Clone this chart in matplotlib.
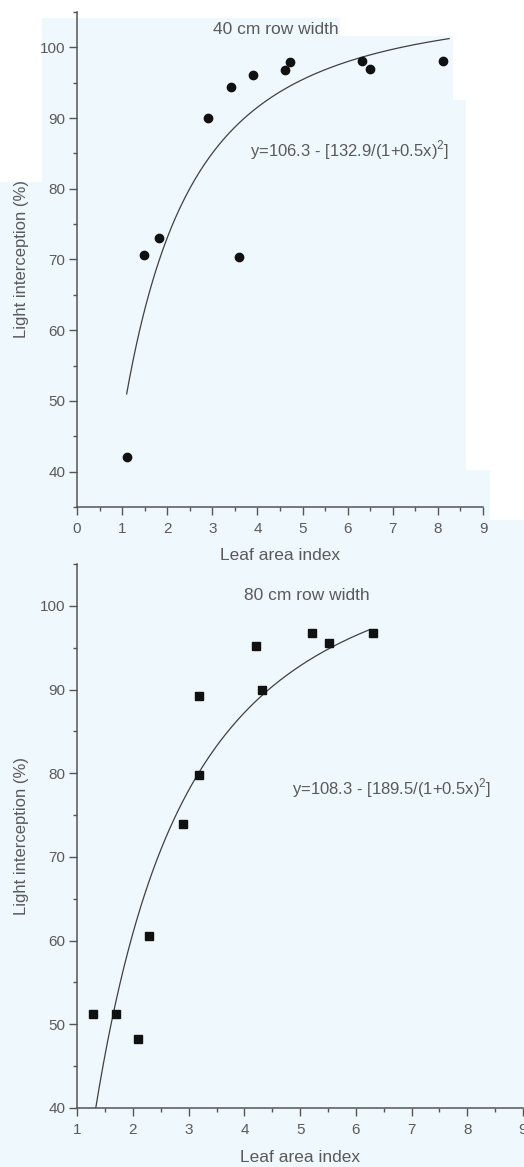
import numpy as np
import matplotlib
matplotlib.use("Agg")
import matplotlib.pyplot as plt
from matplotlib.ticker import MultipleLocator
from matplotlib.patches import Rectangle

# ---- data ----
lai_40 = [1.10, 1.49, 1.81, 2.90, 3.41, 3.60, 3.91, 4.61, 4.72, 6.31, 6.50, 8.11]
li_40 = [42.0, 70.6, 73.0, 90.0, 94.4, 70.3, 96.1, 96.8, 98.0, 98.1, 97.0, 98.1]

lai_80 = [1.29, 1.69, 2.09, 2.29, 2.89, 3.19, 3.19, 4.20, 4.31, 5.21, 5.51, 6.31]
li_80 = [51.2, 51.2, 48.2, 60.6, 73.9, 79.8, 89.2, 95.2, 89.9, 96.8, 95.6, 96.8]

# fitted model parameters shown in the chart
fit_40 = (106.3, 132.9, 0.5)
fit_80 = (108.3, 189.5, 0.5)
fit_40_range = (1.1, 8.25)
fit_80_range = (1.32, 6.25)

title_40 = "40 cm row width"
title_80 = "80 cm row width"
eq_40 = "y=106.3 - [132.9/(1+0.5x)$^{2}$]"
eq_80 = "y=108.3 - [189.5/(1+0.5x)$^{2}$]"
xlabel = "Leaf area index"
ylabel = "Light interception (%)"

bg = "#eff8fc"
ink = "#555555"
txt = "#5a5a5a"

plt.rcParams['font.family'] = ['Liberation Sans', 'DejaVu Sans']
plt.rcParams['mathtext.fontset'] = 'custom'
plt.rcParams['mathtext.rm'] = 'Liberation Sans'
W, H = 524, 1167
fig = plt.figure(figsize=(W / 100, H / 100), dpi=100, facecolor=bg)

# scan paper patches (white areas of the reference)
def white_box(x0, y0, x1, y1):
    fig.patches.append(Rectangle((x0 / W, 1 - y1 / H), (x1 - x0) / W, (y1 - y0) / H,
                                 transform=fig.transFigure, facecolor="white",
                                 edgecolor="none", zorder=-10))

white_box(0, 0, W, 18)
white_box(340, 0, W, 36)
white_box(0, 0, 42, 182)
white_box(453, 0, W, 100)
white_box(466, 100, W, 470)
white_box(490, 470, W, 520)

def style(ax):
    ax.patch.set_alpha(0)
    for s in ("top", "right"):
        ax.spines[s].set_visible(False)
    for s in ("left", "bottom"):
        ax.spines[s].set_color(ink)
        ax.spines[s].set_linewidth(1.1)
    ax.tick_params(which="both", direction="out", colors=ink, labelcolor=txt, labelsize=11)
    ax.tick_params(which="major", length=5.5, width=1.0)
    ax.tick_params(which="minor", length=3, width=1.0)
    ax.tick_params(axis="x", which="major", pad=5)
    ax.tick_params(axis="y", which="major", pad=3)
    ax.yaxis.set_major_locator(MultipleLocator(10))
    ax.yaxis.set_minor_locator(MultipleLocator(5))
    ax.xaxis.set_major_locator(MultipleLocator(1))
    ax.xaxis.set_minor_locator(MultipleLocator(0.5))

def curve(p, rng):
    a, b, c = p
    x = np.linspace(rng[0], rng[1], 200)
    return x, a - b / (1 + c * x) ** 2

# top panel
ax1 = fig.add_axes([0.147, 0.5656, 0.7748, 0.4241])
style(ax1)
ax1.set_xlim(0, 9)
ax1.set_ylim(35, 105)
ax1.set_yticks([40, 50, 60, 70, 80, 90, 100])
xc, yc = curve(fit_40, fit_40_range)
ax1.plot(xc, yc, color="#404040", lw=0.9)
ax1.plot(lai_40, li_40, "o", color="#111111", ms=6)
ax1.text(4.4, 102.5, title_40, ha="center", va="center", fontsize=12.5, color=txt)
ax1.text(3.83, 85.5, eq_40, ha="left", va="center", fontsize=12, color=txt)
ax1.set_xlabel(xlabel, fontsize=12.5, color=txt, labelpad=9)
ax1.set_ylabel(ylabel, fontsize=12, color=txt, labelpad=8)

# bottom panel
ax2 = fig.add_axes([0.1475, 0.0506, 0.8505, 0.4661])
style(ax2)
ax2.set_xlim(1, 9)
ax2.set_ylim(40, 105)
ax2.set_yticks([40, 50, 60, 70, 80, 90, 100])
xc, yc = curve(fit_80, fit_80_range)
ax2.plot(xc, yc, color="#404040", lw=0.9)
ax2.plot(lai_80, li_80, "s", color="#111111", ms=5.5)
ax2.text(5.12, 101.2, title_80, ha="center", va="center", fontsize=12.5, color=txt)
ax2.text(4.85, 78.2, eq_80, ha="left", va="center", fontsize=12, color=txt)
ax2.set_xlabel(xlabel, fontsize=12.5, color=txt, labelpad=10)
ax2.set_ylabel(ylabel, fontsize=12, color=txt, labelpad=8)

fig.savefig("out.png", dpi=100, facecolor=bg)
